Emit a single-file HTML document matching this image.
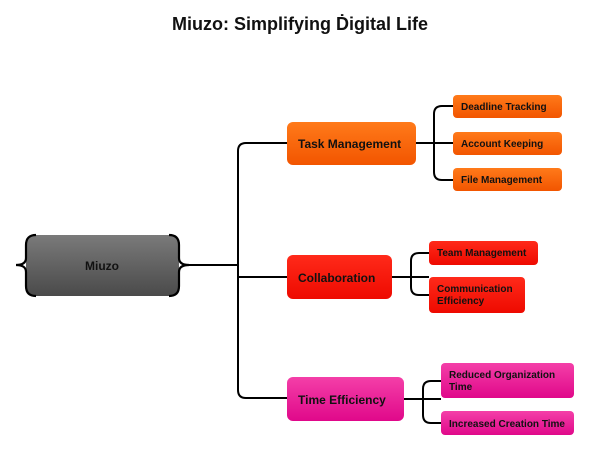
<!DOCTYPE html>
<html><head><meta charset="utf-8"><style>
html,body{margin:0;padding:0;background:#fff;}
svg{display:block;font-family:"Liberation Sans",sans-serif;font-weight:bold;}
</style></head><body>
<svg width="612" height="462" viewBox="0 0 612 462" xmlns="http://www.w3.org/2000/svg">
<defs>
<linearGradient id="g" x1="0" y1="0" x2="0" y2="1"><stop offset="0" stop-color="#7a7a7a"/><stop offset="1" stop-color="#4a4a4a"/></linearGradient>
<linearGradient id="o" x1="0" y1="0" x2="0" y2="1"><stop offset="0" stop-color="#ff7a1a"/><stop offset="1" stop-color="#f25500"/></linearGradient>
<linearGradient id="r" x1="0" y1="0" x2="0" y2="1"><stop offset="0" stop-color="#ff2a1a"/><stop offset="1" stop-color="#ee0a00"/></linearGradient>
<linearGradient id="p" x1="0" y1="0" x2="0" y2="1"><stop offset="0" stop-color="#f43fa8"/><stop offset="1" stop-color="#e0088a"/></linearGradient>
</defs>
<text x="300" y="30" text-anchor="middle" font-size="18" fill="#111">Miuzo: Simplifying Ḋigital Life</text>
<g fill="none" stroke="#000" stroke-width="2">
<path d="M183 265 H238"/>
<path d="M287 143 H246 Q238 143 238 151 V390 Q238 398 246 398 H287"/>
<path d="M238 277 H287"/>
<path d="M416 143 H453"/>
<path d="M453 106 H442 Q434 106 434 114 V172 Q434 180 442 180 H453"/>
<path d="M392 277 H429"/>
<path d="M429 253 H419 Q411 253 411 261 V287 Q411 295 419 295 H429"/>
<path d="M404 399 H441"/>
<path d="M441 381 H431 Q423 381 423 389 V415 Q423 423 431 423 H441"/>
</g>
<rect x="26" y="235" width="153" height="61" rx="8" fill="url(#g)"/>
<g fill="none" stroke="#000" stroke-width="2.2">
<path d="M36 235 Q26 235 26 245 V258 Q26 265 16 265 Q26 265 26 272 V286 Q26 296 36 296"/>
<path d="M169 235 Q179 235 179 245 V258 Q179 265 189 265 Q179 265 179 272 V286 Q179 296 169 296"/>
</g>
<text x="102" y="270" text-anchor="middle" font-size="12" fill="#111">Miuzo</text>
<g font-size="12" fill="#111">
<rect x="287" y="122" width="129" height="43" rx="6" fill="url(#o)"/>
<text x="298" y="148">Task Management</text>
<rect x="287" y="255" width="105" height="44" rx="6" fill="url(#r)"/>
<text x="298" y="282">Collaboration</text>
<rect x="287" y="377" width="117" height="44" rx="6" fill="url(#p)"/>
<text x="298" y="404">Time Efficiency</text>
</g>
<g font-size="10" fill="#111">
<rect x="453" y="95" width="109" height="23" rx="4" fill="url(#o)"/>
<text x="461" y="110">Deadline Tracking</text>
<rect x="453" y="132" width="109" height="23" rx="4" fill="url(#o)"/>
<text x="461" y="147">Account Keeping</text>
<rect x="453" y="168" width="109" height="23" rx="4" fill="url(#o)"/>
<text x="461" y="183">File Management</text>
<rect x="429" y="241" width="109" height="24" rx="4" fill="url(#r)"/>
<text x="437" y="256">Team Management</text>
<rect x="429" y="277" width="96" height="36" rx="4" fill="url(#r)"/>
<text x="437" y="292">Communication</text>
<text x="437" y="304">Efficiency</text>
<rect x="441" y="363" width="133" height="35" rx="4" fill="url(#p)"/>
<text x="449" y="378">Reduced Organization</text>
<text x="449" y="390">Time</text>
<rect x="441" y="411" width="133" height="24" rx="4" fill="url(#p)"/>
<text x="449" y="427">Increased Creation Time</text>
</g>
</svg>
</body></html>
